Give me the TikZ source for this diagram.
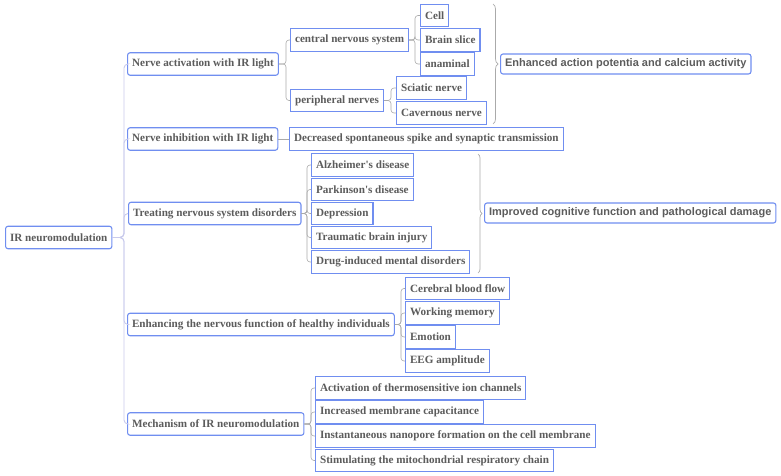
\documentclass[tikz,border=0pt]{standalone}
\usepackage{fontspec}
\setmainfont{Liberation Serif}
\newfontfamily\sansbold{Liberation Sans}
\usetikzlibrary{decorations.pathreplacing}
\definecolor{boxblue}{RGB}{112,142,240}
\definecolor{txtgray}{RGB}{92,92,92}
\definecolor{conngray}{RGB}{170,170,170}
\definecolor{spinecol}{RGB}{200,202,236}
\begin{document}
\begin{tikzpicture}[x=1pt,y=-1pt,
  base/.style={draw=boxblue, line width=1.1pt, fill=white, text=txtgray,
    font=\fontsize{11.15}{13}\selectfont\bfseries, inner xsep=4.5pt, inner ysep=0pt,
    minimum height=22.5pt, anchor=west},
  leaf/.style={base},
  main/.style={base, rounded corners=2.5pt},
  summ/.style={main, font=\fontsize{11}{13}\selectfont\sansbold\bfseries, minimum height=20pt},
  conn/.style={draw=conngray, line width=0.6pt, rounded corners=3pt},
  spine/.style={draw=spinecol, line width=0.9pt, rounded corners=4pt},
  brc/.style={draw=conngray, line width=0.7pt, decorate, decoration={brace, amplitude=5pt}}]
\useasboundingbox (0,0) rectangle (781,476);

% root
\node[main] (root) at (5,237.5) {IR neuromodulation};
% level 1
\node[main] (nact) at (127,64) {Nerve activation with IR light};
\node[main] (ninh) at (127,139) {Nerve inhibition with IR light};
\node[main] (treat) at (128,213.5) {Treating nervous system disorders};
\node[main] (enh) at (127,324.5) {Enhancing the nervous function of healthy individuals};
\node[main] (mech) at (127,424) {Mechanism of IR neuromodulation};

% nerve activation
\node[leaf] (cns) at (290,40) {central nervous system};
\node[leaf] (pn) at (290,100.5) {peripheral nerves};
\node[leaf] (cell) at (420,15.5) {Cell};
\node[leaf] (brain) at (420,40) {Brain slice};
\node[leaf] (anam) at (420,64) {anaminal};
\node[leaf] (sci) at (396,88) {Sciatic nerve};
\node[leaf] (cav) at (396,113) {Cavernous nerve};
\node[summ] (eapc) at (500,64) {Enhanced action potentia and calcium activity};

% nerve inhibition
\node[leaf] (decr) at (289,139) {Decreased spontaneous spike and synaptic transmission};

% treating
\node[leaf] (alz) at (311,165) {Alzheimer\textquotesingle s disease};
\node[leaf] (park) at (311,189.5) {Parkinson\textquotesingle s disease};
\node[leaf] (dep) at (311,213.5) {Depression};
\node[leaf] (tbi) at (311,237.5) {Traumatic brain injury};
\node[leaf] (drug) at (311,262) {Drug-induced mental disorders};
\node[summ] (icf) at (484,213) {Improved cognitive function and pathological damage};

% enhancing
\node[leaf] (cbf) at (405,288.5) {Cerebral blood flow};
\node[leaf] (wm) at (405,313) {Working memory};
\node[leaf] (emo) at (405,337) {Emotion};
\node[leaf] (eeg) at (405,361) {EEG amplitude};

% mechanism
\node[leaf] (act) at (315,388) {Activation of thermosensitive ion channels};
\node[leaf] (inc) at (315,412) {Increased membrane capacitance};
\node[leaf] (inst) at (315,436) {Instantaneous nanopore formation on the cell membrane};
\node[leaf] (stim) at (315,460.5) {Stimulating the mitochondrial respiratory chain};

% junction x positions
\coordinate (j0) at (124,0);
\coordinate (j1) at (286,0);
\coordinate (j2) at (415,0);
\coordinate (j3) at (391,0);
\coordinate (j4) at (307,0);
\coordinate (j5) at (401,0);
\coordinate (j6) at (311,0);

% spine
\foreach \c in {nact,ninh,treat,enh,mech}
  \draw[spine] (root.east) -- (root.east -| j0) |- (\c.west);

% connectors
\foreach \c in {cns,pn}
  \draw[conn] (nact.east) -- (nact.east -| j1) |- (\c.west);
\foreach \c in {cell,brain,anam}
  \draw[conn] (cns.east) -- (cns.east -| j2) |- (\c.west);
\foreach \c in {sci,cav}
  \draw[conn] (pn.east) -- (pn.east -| j3) |- (\c.west);
\draw[conn] (ninh.east) -- (decr.west);
\foreach \c in {alz,park,dep,tbi,drug}
  \draw[conn] (treat.east) -- (treat.east -| j4) |- (\c.west);
\foreach \c in {cbf,wm,emo,eeg}
  \draw[conn] (enh.east) -- (enh.east -| j5) |- (\c.west);
\foreach \c in {act,inc,inst,stim}
  \draw[conn] (mech.east) -- (mech.east -| j6) |- (\c.west);

% braces
\coordinate (b1t) at (493,4);
\coordinate (b1b) at (493,124);
\coordinate (b2t) at (478,154);
\coordinate (b2b) at (478,273);
\draw[brc] (b1t) -- (b1b);
\draw[brc, decoration={brace, amplitude=4pt}] (b2t) -- (b2b);
\end{tikzpicture}
\end{document}
